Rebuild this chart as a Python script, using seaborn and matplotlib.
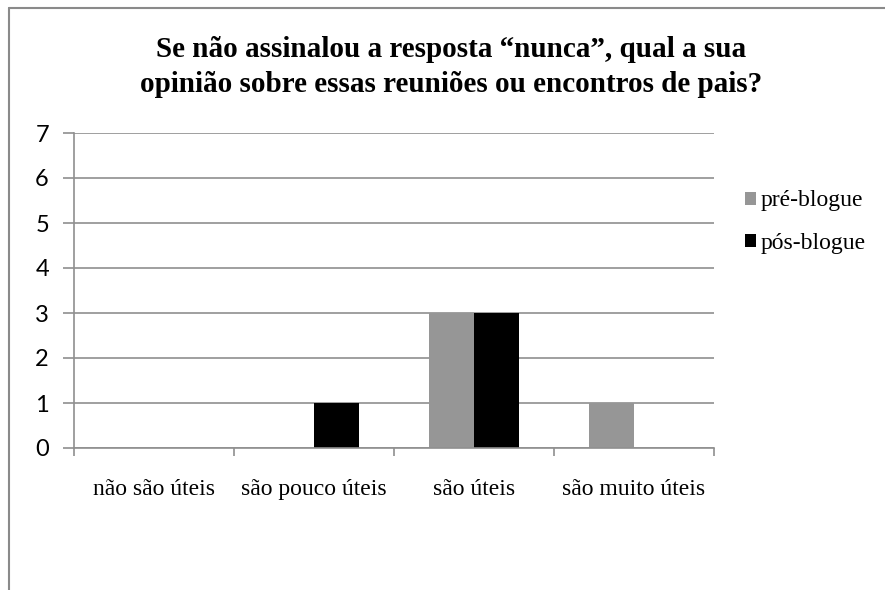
import matplotlib
matplotlib.use("Agg")
import matplotlib.pyplot as plt
from matplotlib.lines import Line2D
from matplotlib.patches import Patch
import seaborn as sns
import pandas as pd

# Survey answers, counted before and after the blog
categories = ["não são úteis", "são pouco úteis", "são úteis", "são muito úteis"]
pre_blogue = [0, 0, 3, 1]
pos_blogue = [0, 1, 3, 0]
series_names = ["pré-blogue", "pós-blogue"]
y_ticks = [0, 1, 2, 3, 4, 5, 6, 7]
title = "Se não assinalou a resposta “nunca”, qual a sua\nopinião sobre essas reuniões ou encontros de pais?"

df = pd.DataFrame({
    "categoria": categories * 2,
    "valor": pre_blogue + pos_blogue,
    "serie": [series_names[0]] * len(categories) + [series_names[1]] * len(categories),
})

sns.set_theme(style="white")
plt.rcParams["text.color"] = "black"
plt.rcParams["xtick.color"] = "black"
plt.rcParams["ytick.color"] = "black"
serif = ["Liberation Serif", "DejaVu Serif"]
sans = ["Lato", "Liberation Sans", "DejaVu Sans"]

fig = plt.figure(figsize=(8.85, 5.9), dpi=100)
ax = fig.add_axes([74 / 885, 1 - 448 / 590, 640 / 885, 315 / 590])

palette = {series_names[0]: "#969696", series_names[1]: "#000000"}
sns.barplot(data=df, x="categoria", y="valor", hue="serie", order=categories,
            hue_order=series_names, palette=palette, width=0.5625,
            saturation=1, dodge=True, ax=ax, legend=False, errorbar=None)

ax.set_ylim(0, 7)
ax.set_xlim(-0.5, len(categories) - 0.5)
ax.set_yticks(y_ticks)
ax.set_yticklabels([str(v) for v in y_ticks], fontfamily=sans, fontsize=17,
                   color="black")
ax.yaxis.grid(True, color="#8f8f8f", linewidth=1.2)
ax.set_axisbelow(True)
ax.tick_params(axis="y", length=8, width=1.2, color="#8f8f8f", pad=10, left=True,
               labelcolor="black")

# category labels centred, boundary ticks between categories
ax.set_xticks(range(len(categories)))
ax.set_xticklabels(categories, fontfamily=serif, fontsize=17, color="black")
ax.tick_params(axis="x", which="major", length=0, pad=22, labelcolor="black")
ax.set_xticks([i - 0.5 for i in range(len(categories) + 1)], minor=True)
ax.tick_params(axis="x", which="minor", length=6, width=1.2, color="#8f8f8f", bottom=True)
ax.set_xlabel("")
ax.set_ylabel("")

for side in ["top", "right"]:
    ax.spines[side].set_visible(False)
for side in ["left", "bottom"]:
    ax.spines[side].set_color("#8f8f8f")
    ax.spines[side].set_linewidth(1.2)

for p in ax.patches:
    p.set_edgecolor("none")

fig.text(451 / 885, 1 - 67 / 590, title, ha="center", va="center",
         fontfamily=serif, fontsize=21, fontweight="bold", linespacing=1.36,
         color="black")

handles = [Patch(facecolor=palette[s], edgecolor="none") for s in series_names]
fig.legend(handles, series_names, loc="center left",
           bbox_to_anchor=(745 / 885, 1 - 222 / 590), frameon=False,
           prop={"family": serif, "size": 17}, handlelength=0.47, handleheight=0.47,
           handletextpad=0.2, labelspacing=0.89, borderaxespad=0, borderpad=0,
           labelcolor="black")

# outer chart frame (top and left edges)
fig.add_artist(Line2D([9 / 885, 9 / 885], [0, 1 - 8 / 590], transform=fig.transFigure,
                      color="#8a8a8a", linewidth=1.5))
fig.add_artist(Line2D([9 / 885, 1], [1 - 8 / 590, 1 - 8 / 590], transform=fig.transFigure,
                      color="#8a8a8a", linewidth=1.5))

fig.savefig("out.png", dpi=100, facecolor="white")
